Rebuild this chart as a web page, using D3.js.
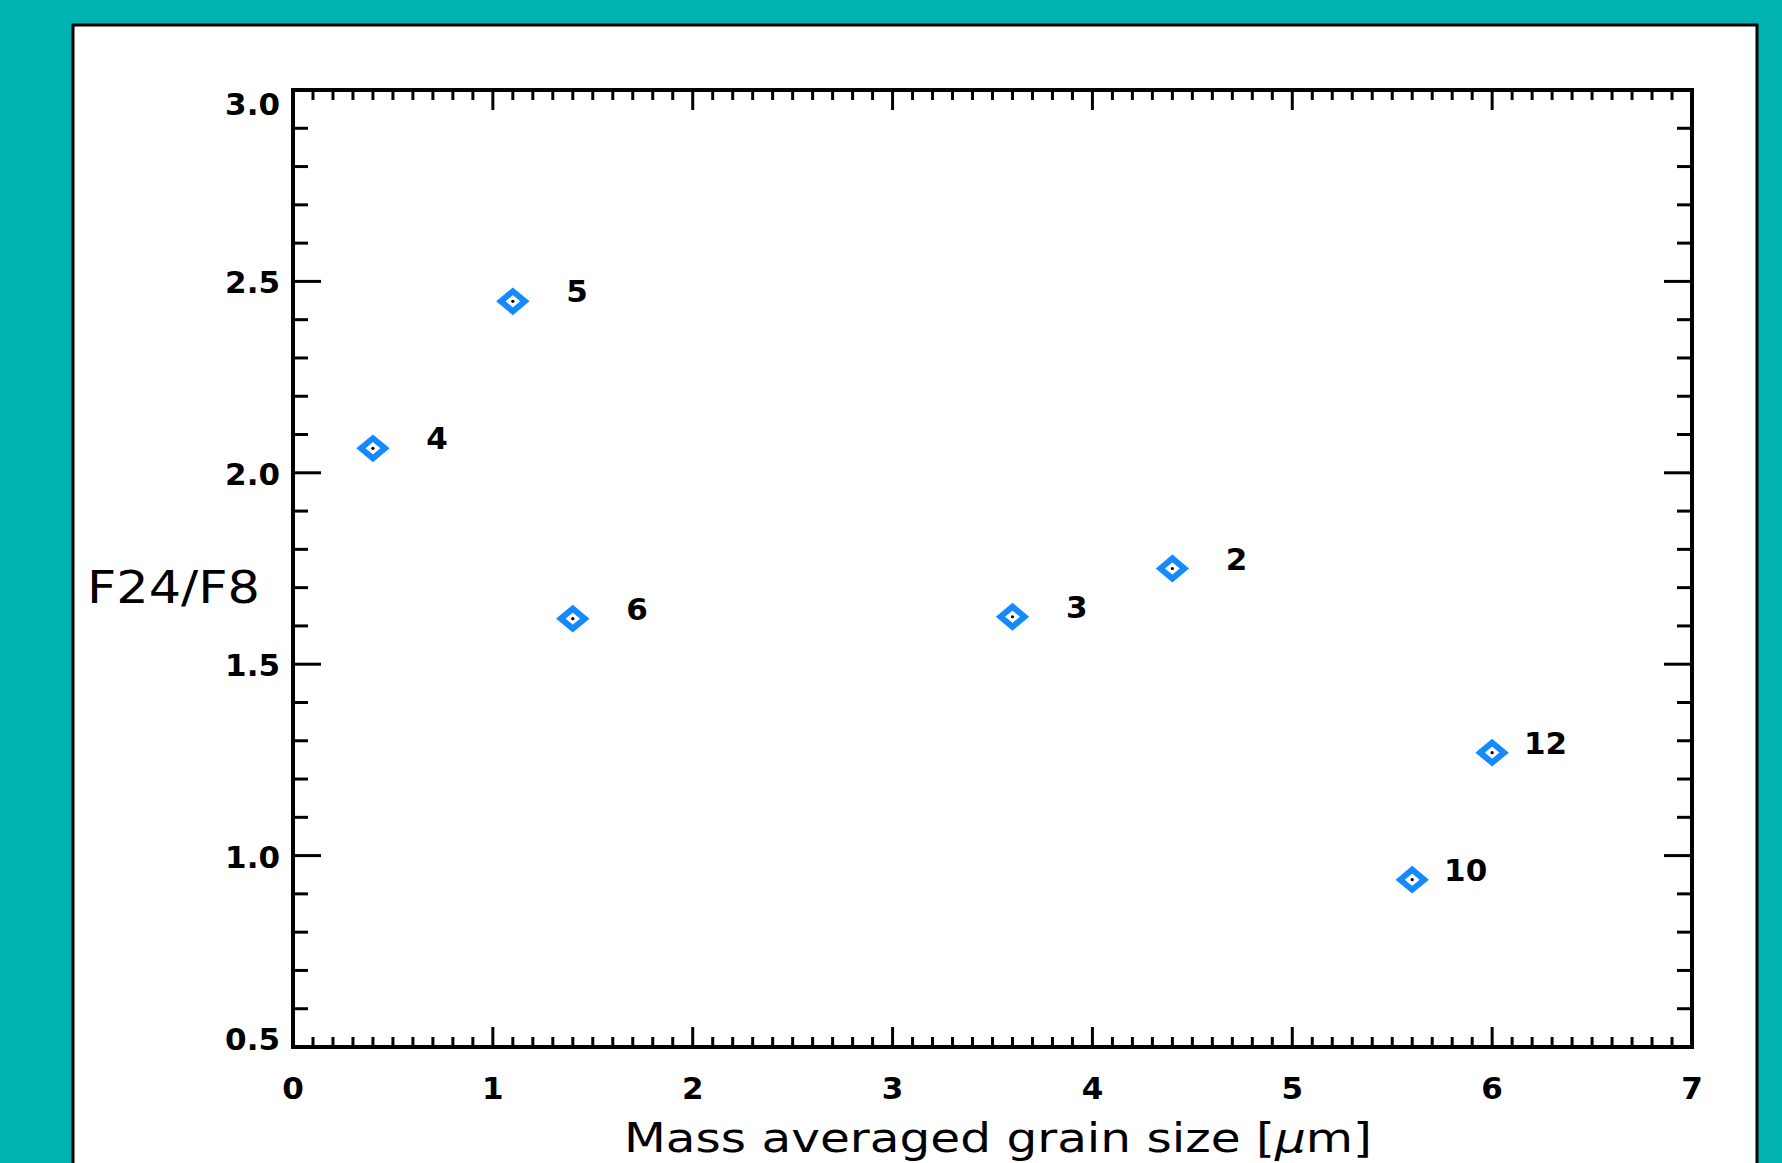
<!DOCTYPE html>
<html>
<head>
<meta charset="utf-8">
<script src="https://cdn.jsdelivr.net/npm/d3@7"></script>
<style>
  html, body { margin: 0; padding: 0; background: #00b3b3; overflow: hidden; }
  svg { display: block; }
  text { font-family: "DejaVu Sans", sans-serif; fill: #000; }
</style>
</head>
<body>
<div id="chart"></div>
<script>
const width = 1782;
const height = 1163;

// data
const grainSize = [0.40, 1.10, 1.40, 3.60, 4.40, 5.60, 6.00];
const fluxRatio = [2.064, 2.448, 1.619, 1.624, 1.750, 0.937, 1.269];
const pointLabels = ["4", "5", "6", "3", "2", "10", "12"];

const xMajor = [0, 1, 2, 3, 4, 5, 6, 7];
const yMajor = [0.5, 1.0, 1.5, 2.0, 2.5, 3.0];

const margin = { left: 293, right: 1692, top: 90, bottom: 1047 };

const svg = d3.select("#chart").append("svg")
    .attr("width", width)
    .attr("height", height);

// white panel
svg.append("rect")
    .attr("x", 73).attr("y", 25)
    .attr("width", 1684).attr("height", height)
    .attr("fill", "#fff")
    .attr("stroke", "#000")
    .attr("stroke-width", 3);

const x = d3.scaleLinear().domain([0, 7]).range([margin.left, margin.right]);
const y = d3.scaleLinear().domain([0.5, 3.0]).range([margin.bottom, margin.top]);

const xMinor = d3.range(0, 70.5).map(i => i / 10).filter(v => Math.abs(v - Math.round(v)) > 1e-6);
const yMinor = d3.range(5, 30.5).map(i => i / 10).filter(v => Math.abs(v * 2 - Math.round(v * 2)) > 1e-6);

const axisG = svg.append("g").attr("stroke", "#000").attr("stroke-width", 3);

// bottom & top ticks
const xTicks = xMajor.map(v => ({ v, len: 20 })).concat(xMinor.map(v => ({ v, len: 10 })));
axisG.selectAll(".xb").data(xTicks).join("line")
    .attr("x1", d => x(d.v)).attr("x2", d => x(d.v))
    .attr("y1", margin.bottom).attr("y2", d => margin.bottom - d.len);
axisG.selectAll(".xt").data(xTicks).join("line")
    .attr("class", "xt")
    .attr("x1", d => x(d.v)).attr("x2", d => x(d.v))
    .attr("y1", margin.top).attr("y2", d => margin.top + d.len);

// left & right ticks
const yTicks = yMajor.map(v => ({ v, len: 28 })).concat(yMinor.map(v => ({ v, len: 15 })));
axisG.selectAll(".yl").data(yTicks).join("line")
    .attr("class", "yl")
    .attr("y1", d => y(d.v)).attr("y2", d => y(d.v))
    .attr("x1", margin.left).attr("x2", d => margin.left + d.len);
axisG.selectAll(".yr").data(yTicks).join("line")
    .attr("class", "yr")
    .attr("y1", d => y(d.v)).attr("y2", d => y(d.v))
    .attr("x1", margin.right).attr("x2", d => margin.right - d.len);

// frame
svg.append("rect")
    .attr("x", margin.left).attr("y", margin.top)
    .attr("width", margin.right - margin.left)
    .attr("height", margin.bottom - margin.top)
    .attr("fill", "none")
    .attr("stroke", "#000")
    .attr("stroke-width", 4);

// tick labels
svg.selectAll(".xlab").data(xMajor).join("text")
    .attr("class", "xlab")
    .attr("x", d => x(d))
    .attr("y", 1099)
    .attr("text-anchor", "middle")
    .attr("font-size", 31)
    .attr("font-weight", "bold")
    .text(d => d);

svg.selectAll(".ylab").data(yMajor).join("text")
    .attr("class", "ylab")
    .attr("x", 280)
    .attr("y", d => {
        if (d === 3.0) return y(d) + 25;
        if (d === 0.5) return y(d) + 3;
        return y(d) + 12;
    })
    .attr("text-anchor", "end")
    .attr("font-size", 31)
    .attr("font-weight", "bold")
    .text(d => d3.format(".1f")(d));

// axis titles
const xt = svg.append("text")
    .attr("x", 998)
    .attr("y", 1152)
    .attr("text-anchor", "middle")
    .attr("font-size", 40)
    .attr("textLength", 748)
    .attr("lengthAdjust", "spacingAndGlyphs");
xt.append("tspan").text("Mass averaged grain size [");
xt.append("tspan").attr("font-style", "italic").text("\u03bc");
xt.append("tspan").text("m]");

svg.append("text")
    .attr("x", 87)
    .attr("y", 603)
    .attr("font-size", 45)
    .attr("textLength", 173)
    .attr("lengthAdjust", "spacingAndGlyphs")
    .text("F24/F8");

// points
const pts = grainSize.map((g, i) => ({ x: g, y: fluxRatio[i], label: pointLabels[i] }));

const mark = svg.append("g").selectAll("g").data(pts).join("g")
    .attr("transform", d => `translate(${x(d.x)},${y(d.y)})`);

mark.append("path")
    .attr("d", "M-12,0L0,-10L12,0L0,10Z")
    .attr("fill", "none")
    .attr("stroke", "#1589ff")
    .attr("stroke-width", 6)
    .attr("stroke-linejoin", "miter");

mark.append("circle")
    .attr("r", 1.6)
    .attr("fill", "#000");

mark.append("text")
    .attr("x", 75)
    .attr("y", 1)
    .attr("text-anchor", "end")
    .attr("font-size", 31)
    .attr("font-weight", "bold")
    .text(d => d.label);
</script>
</body>
</html>
